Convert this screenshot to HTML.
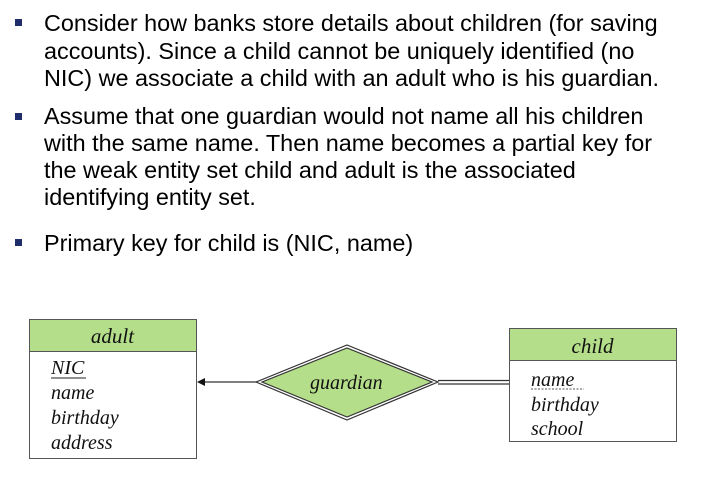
<!DOCTYPE html>
<html><head><meta charset="utf-8"><style>
body{margin:0;width:716px;height:495px;background:#fff;position:relative;overflow:hidden;font-family:"Liberation Sans",sans-serif;}
.l{position:absolute;left:44px;font-size:23.4px;line-height:23px;color:#000;white-space:nowrap;}
.b{position:absolute;left:15px;width:7px;height:7px;background:#1f2d6a;}
.s{font-family:"Liberation Serif",serif;font-style:italic;font-size:20px;color:#111;}
</style></head><body>
<div class="b" style="top:19px"></div>
<div class="l" style="top:12px">Consider how banks store details about children (for saving</div>
<div class="l" style="top:40px">accounts). Since a child cannot be uniquely identified (no</div>
<div class="l" style="top:67px">NIC) we associate a child with an adult who is his guardian.</div>
<div class="b" style="top:113px"></div>
<div class="l" style="top:105px">Assume that one guardian would not name all his children</div>
<div class="l" style="top:132px">with the same name. Then name becomes a partial key for</div>
<div class="l" style="top:159px">the weak entity set child and adult is the associated</div>
<div class="l" style="top:186px">identifying entity set.</div>
<div class="b" style="top:239px"></div>
<div class="l" style="top:232px">Primary key for child is (NIC, name)</div>
<svg width="716" height="495" style="position:absolute;left:0;top:0">
<rect x="29.5" y="319.5" width="167" height="139" fill="#fff" stroke="#555"/>
<rect x="29.5" y="319.5" width="167" height="32" fill="#b5de8a" stroke="#555"/>
<rect x="509.5" y="328.5" width="167" height="113" fill="#fff" stroke="#555"/>
<rect x="509.5" y="328.5" width="167" height="32" fill="#b5de8a" stroke="#555"/>
<line x1="257" y1="382" x2="204" y2="382" stroke="#333" stroke-width="1.2"/>
<polygon points="197,382 205,378 205,386" fill="#111"/>
<polygon points="256,382 347,345 438,382 347,420" fill="#fff" stroke="#333" stroke-width="1.2"/>
<polygon points="262,382 347,348 432,382 347,417" fill="#b5de8a" stroke="#333" stroke-width="1.2"/>
<line x1="438" y1="380.5" x2="509" y2="380.5" stroke="#333" stroke-width="1.2"/>
<line x1="438" y1="384" x2="509" y2="384" stroke="#333" stroke-width="1.2"/>
<line x1="531" y1="389" x2="584" y2="389" stroke="#555" stroke-dasharray="2,1.5"/>
<line x1="51" y1="378" x2="86" y2="378" stroke="#222"/>
</svg>
<div class="s" style="position:absolute;left:29px;width:167px;text-align:center;top:324px;font-size:21px">adult</div>
<div class="s" style="position:absolute;left:51px;top:356px;line-height:25px">NIC<br>name<br>birthday<br>address</div>
<div class="s" style="position:absolute;left:310px;top:372px">guardian</div>
<div class="s" style="position:absolute;left:509px;width:167px;text-align:center;top:334px;font-size:21px">child</div>
<div class="s" style="position:absolute;left:531px;top:368px;line-height:24.5px">name<br>birthday<br>school</div>
</body></html>
